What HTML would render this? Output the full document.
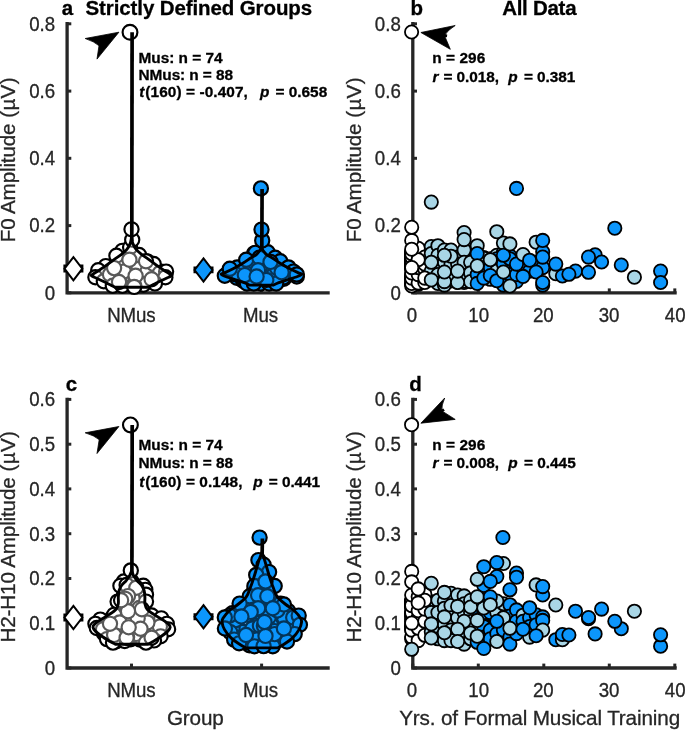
<!DOCTYPE html>
<html lang="en"><head><meta charset="utf-8"><title>Figure</title>
<style>
html,body{margin:0;padding:0;background:#fff}
body{width:685px;height:730px;overflow:hidden}
svg{display:block;filter:blur(0.4px)}
text{font-family:'Liberation Sans', sans-serif;fill:#262626;stroke:#262626;stroke-width:0.3px}
.ttl{font-weight:bold;fill:#000;stroke:#000}
.ann{font-weight:bold;fill:#000;stroke:#000}
.it{font-style:italic}
circle{stroke:#000;stroke-width:1.8px}
.W,.B{stroke-width:2.15px}
.w,.W{fill:#fff} .l{fill:#a9d6e6} .b,.B{fill:#0c96fc}
</style></head><body>
<svg width="685" height="730" viewBox="0 0 685 730">
<rect width="685" height="730" fill="#fff"/>
<text transform="translate(0 15.20) scale(1 1.02)" class="ttl" font-size="20.5"><tspan x="61.85">a </tspan><tspan x="85.54" letter-spacing="-0.098">Strictly Defined Groups</tspan></text>
<text transform="translate(0 15.20) scale(1 1.02)" class="ttl" font-size="20.5"><tspan x="410.39">b </tspan><tspan x="502.14" letter-spacing="-0.265">All Data</tspan></text>
<text transform="translate(0 390.70) scale(1 1.02)" class="ttl" font-size="20.5"><tspan x="65.86">c</tspan></text>
<text transform="translate(0 390.70) scale(1 1.02)" class="ttl" font-size="20.5"><tspan x="409.20">d</tspan></text>
<path d="M67.10 22.1 V292.8 H329.7" fill="none" stroke="#262626" stroke-width="3.3" stroke-linejoin="miter"/>
<line x1="67.10" y1="292.8" x2="71.30" y2="292.8" stroke="#262626" stroke-width="3.0"/>
<line x1="67.10" y1="225.6" x2="71.30" y2="225.6" stroke="#262626" stroke-width="3.0"/>
<line x1="67.10" y1="158.3" x2="71.30" y2="158.3" stroke="#262626" stroke-width="3.0"/>
<line x1="67.10" y1="91.1" x2="71.30" y2="91.1" stroke="#262626" stroke-width="3.0"/>
<line x1="67.10" y1="23.8" x2="71.30" y2="23.8" stroke="#262626" stroke-width="3.0"/>
<text transform="translate(44.73 299.60) scale(1 1.045)" class="tk" font-size="18.7">0</text>
<text transform="translate(29.13 232.35) scale(1 1.045)" class="tk" font-size="18.7">0.2</text>
<text transform="translate(29.13 165.10) scale(1 1.045)" class="tk" font-size="18.7">0.4</text>
<text transform="translate(29.13 97.85) scale(1 1.045)" class="tk" font-size="18.7">0.6</text>
<text transform="translate(29.13 30.60) scale(1 1.045)" class="tk" font-size="18.7">0.8</text>
<line x1="131.5" y1="292.8" x2="131.5" y2="288.4" stroke="#262626" stroke-width="3.0"/>
<line x1="261.6" y1="292.8" x2="261.6" y2="288.4" stroke="#262626" stroke-width="3.0"/>
<path d="M412.80 22.1 V292.8 H676.7" fill="none" stroke="#262626" stroke-width="3.3" stroke-linejoin="miter"/>
<line x1="412.80" y1="292.8" x2="417.00" y2="292.8" stroke="#262626" stroke-width="3.0"/>
<line x1="412.80" y1="225.6" x2="417.00" y2="225.6" stroke="#262626" stroke-width="3.0"/>
<line x1="412.80" y1="158.3" x2="417.00" y2="158.3" stroke="#262626" stroke-width="3.0"/>
<line x1="412.80" y1="91.1" x2="417.00" y2="91.1" stroke="#262626" stroke-width="3.0"/>
<line x1="412.80" y1="23.8" x2="417.00" y2="23.8" stroke="#262626" stroke-width="3.0"/>
<text transform="translate(390.43 299.60) scale(1 1.045)" class="tk" font-size="18.7">0</text>
<text transform="translate(374.83 232.35) scale(1 1.045)" class="tk" font-size="18.7">0.2</text>
<text transform="translate(374.83 165.10) scale(1 1.045)" class="tk" font-size="18.7">0.4</text>
<text transform="translate(374.83 97.85) scale(1 1.045)" class="tk" font-size="18.7">0.6</text>
<text transform="translate(374.83 30.60) scale(1 1.045)" class="tk" font-size="18.7">0.8</text>
<line x1="412.8" y1="292.8" x2="412.8" y2="288.4" stroke="#262626" stroke-width="3.0"/>
<line x1="478.3" y1="292.8" x2="478.3" y2="288.4" stroke="#262626" stroke-width="3.0"/>
<line x1="543.8" y1="292.8" x2="543.8" y2="288.4" stroke="#262626" stroke-width="3.0"/>
<line x1="609.3" y1="292.8" x2="609.3" y2="288.4" stroke="#262626" stroke-width="3.0"/>
<line x1="674.8" y1="292.8" x2="674.8" y2="288.4" stroke="#262626" stroke-width="3.0"/>
<path d="M67.10 397.7 V668.0 H329.7" fill="none" stroke="#262626" stroke-width="3.3" stroke-linejoin="miter"/>
<line x1="67.10" y1="668.0" x2="71.30" y2="668.0" stroke="#262626" stroke-width="3.0"/>
<line x1="67.10" y1="623.2" x2="71.30" y2="623.2" stroke="#262626" stroke-width="3.0"/>
<line x1="67.10" y1="578.5" x2="71.30" y2="578.5" stroke="#262626" stroke-width="3.0"/>
<line x1="67.10" y1="533.7" x2="71.30" y2="533.7" stroke="#262626" stroke-width="3.0"/>
<line x1="67.10" y1="488.9" x2="71.30" y2="488.9" stroke="#262626" stroke-width="3.0"/>
<line x1="67.10" y1="444.2" x2="71.30" y2="444.2" stroke="#262626" stroke-width="3.0"/>
<line x1="67.10" y1="399.4" x2="71.30" y2="399.4" stroke="#262626" stroke-width="3.0"/>
<text transform="translate(44.73 674.80) scale(1 1.045)" class="tk" font-size="18.7">0</text>
<text transform="translate(29.13 630.03) scale(1 1.045)" class="tk" font-size="18.7">0.1</text>
<text transform="translate(29.13 585.27) scale(1 1.045)" class="tk" font-size="18.7">0.2</text>
<text transform="translate(29.13 540.50) scale(1 1.045)" class="tk" font-size="18.7">0.3</text>
<text transform="translate(29.13 495.73) scale(1 1.045)" class="tk" font-size="18.7">0.4</text>
<text transform="translate(29.13 450.97) scale(1 1.045)" class="tk" font-size="18.7">0.5</text>
<text transform="translate(29.13 406.20) scale(1 1.045)" class="tk" font-size="18.7">0.6</text>
<line x1="131.5" y1="668.0" x2="131.5" y2="663.6" stroke="#262626" stroke-width="3.0"/>
<line x1="261.6" y1="668.0" x2="261.6" y2="663.6" stroke="#262626" stroke-width="3.0"/>
<path d="M412.80 397.7 V668.0 H676.7" fill="none" stroke="#262626" stroke-width="3.3" stroke-linejoin="miter"/>
<line x1="412.80" y1="668.0" x2="417.00" y2="668.0" stroke="#262626" stroke-width="3.0"/>
<line x1="412.80" y1="623.2" x2="417.00" y2="623.2" stroke="#262626" stroke-width="3.0"/>
<line x1="412.80" y1="578.5" x2="417.00" y2="578.5" stroke="#262626" stroke-width="3.0"/>
<line x1="412.80" y1="533.7" x2="417.00" y2="533.7" stroke="#262626" stroke-width="3.0"/>
<line x1="412.80" y1="488.9" x2="417.00" y2="488.9" stroke="#262626" stroke-width="3.0"/>
<line x1="412.80" y1="444.2" x2="417.00" y2="444.2" stroke="#262626" stroke-width="3.0"/>
<line x1="412.80" y1="399.4" x2="417.00" y2="399.4" stroke="#262626" stroke-width="3.0"/>
<text transform="translate(390.43 674.80) scale(1 1.045)" class="tk" font-size="18.7">0</text>
<text transform="translate(374.83 630.03) scale(1 1.045)" class="tk" font-size="18.7">0.1</text>
<text transform="translate(374.83 585.27) scale(1 1.045)" class="tk" font-size="18.7">0.2</text>
<text transform="translate(374.83 540.50) scale(1 1.045)" class="tk" font-size="18.7">0.3</text>
<text transform="translate(374.83 495.73) scale(1 1.045)" class="tk" font-size="18.7">0.4</text>
<text transform="translate(374.83 450.97) scale(1 1.045)" class="tk" font-size="18.7">0.5</text>
<text transform="translate(374.83 406.20) scale(1 1.045)" class="tk" font-size="18.7">0.6</text>
<line x1="412.8" y1="668.0" x2="412.8" y2="663.6" stroke="#262626" stroke-width="3.0"/>
<line x1="478.3" y1="668.0" x2="478.3" y2="663.6" stroke="#262626" stroke-width="3.0"/>
<line x1="543.8" y1="668.0" x2="543.8" y2="663.6" stroke="#262626" stroke-width="3.0"/>
<line x1="609.3" y1="668.0" x2="609.3" y2="663.6" stroke="#262626" stroke-width="3.0"/>
<line x1="674.8" y1="668.0" x2="674.8" y2="663.6" stroke="#262626" stroke-width="3.0"/>
<text transform="translate(0 321.80) scale(1 1.045)" class="tk" font-size="18.7"><tspan x="107.15" letter-spacing="-0.152">NMus</tspan></text>
<text transform="translate(0 321.80) scale(1 1.045)" class="tk" font-size="18.7"><tspan x="242.95" letter-spacing="-0.096">Mus</tspan></text>
<text transform="translate(0 321.80) scale(1 1.045)" class="tk" font-size="18.7"><tspan x="406.81">0</tspan></text>
<text transform="translate(0 321.80) scale(1 1.045)" class="tk" font-size="18.7"><tspan x="468.30">10</tspan></text>
<text transform="translate(0 321.80) scale(1 1.045)" class="tk" font-size="18.7"><tspan x="532.98">20</tspan></text>
<text transform="translate(0 321.80) scale(1 1.045)" class="tk" font-size="18.7"><tspan x="598.67">30</tspan></text>
<text transform="translate(0 321.80) scale(1 1.045)" class="tk" font-size="18.7"><tspan x="664.86">40</tspan></text>
<text transform="translate(0 697.20) scale(1 1.045)" class="tk" font-size="18.7"><tspan x="107.15" letter-spacing="-0.152">NMus</tspan></text>
<text transform="translate(0 697.20) scale(1 1.045)" class="tk" font-size="18.7"><tspan x="242.95" letter-spacing="-0.096">Mus</tspan></text>
<text transform="translate(0 697.20) scale(1 1.045)" class="tk" font-size="18.7"><tspan x="406.81">0</tspan></text>
<text transform="translate(0 697.20) scale(1 1.045)" class="tk" font-size="18.7"><tspan x="468.30">10</tspan></text>
<text transform="translate(0 697.20) scale(1 1.045)" class="tk" font-size="18.7"><tspan x="532.98">20</tspan></text>
<text transform="translate(0 697.20) scale(1 1.045)" class="tk" font-size="18.7"><tspan x="598.67">30</tspan></text>
<text transform="translate(0 697.20) scale(1 1.045)" class="tk" font-size="18.7"><tspan x="664.86">40</tspan></text>
<text transform="translate(15.40 0) rotate(-90)" class="lab" font-size="20.7"><tspan x="-242.21" letter-spacing="-0.182">F0 Amplitude </tspan><tspan x="-117.69" letter-spacing="0.250">(µV)</tspan></text>
<text transform="translate(15.40 0) rotate(-90)" class="lab" font-size="20.7"><tspan x="-642.51" letter-spacing="-0.173">H2-H10 Amplitude </tspan><tspan x="-471.39" letter-spacing="0.250">(µV)</tspan></text>
<text transform="translate(360.80 0) rotate(-90)" class="lab" font-size="20.7"><tspan x="-242.21" letter-spacing="-0.182">F0 Amplitude </tspan><tspan x="-117.69" letter-spacing="0.250">(µV)</tspan></text>
<text transform="translate(360.80 0) rotate(-90)" class="lab" font-size="20.7"><tspan x="-642.51" letter-spacing="-0.173">H2-H10 Amplitude </tspan><tspan x="-471.39" letter-spacing="0.250">(µV)</tspan></text>
<text transform="translate(0 724.90)" class="lab" font-size="20.7"><tspan x="166.91" letter-spacing="-0.146">Group</tspan></text>
<text transform="translate(0 724.90)" class="lab" font-size="20.7"><tspan x="399.13" letter-spacing="-0.136">Yrs. of Formal Musical Training</tspan></text>
<circle class="W" cx="131.9" cy="281.6" r="7.1"/>
<circle class="W" cx="132.1" cy="267.3" r="7.1"/>
<circle class="W" cx="136.0" cy="255.2" r="7.1"/>
<circle class="W" cx="161.2" cy="271.8" r="7.1"/>
<circle class="W" cx="106.5" cy="268.5" r="7.1"/>
<circle class="W" cx="118.9" cy="264.8" r="7.1"/>
<circle class="W" cx="131.2" cy="252.6" r="7.1"/>
<circle class="W" cx="147.8" cy="261.7" r="7.1"/>
<circle class="W" cx="114.3" cy="272.4" r="7.1"/>
<circle class="W" cx="134.9" cy="254.6" r="7.1"/>
<circle class="W" cx="113.7" cy="278.3" r="7.1"/>
<circle class="W" cx="155.7" cy="281.0" r="7.1"/>
<circle class="W" cx="134.8" cy="259.2" r="7.1"/>
<circle class="W" cx="101.8" cy="275.4" r="7.1"/>
<circle class="W" cx="113.8" cy="274.5" r="7.1"/>
<circle class="W" cx="135.7" cy="276.2" r="7.1"/>
<circle class="W" cx="138.8" cy="261.3" r="7.1"/>
<circle class="W" cx="127.1" cy="269.7" r="7.1"/>
<circle class="W" cx="107.5" cy="278.6" r="7.1"/>
<circle class="W" cx="122.7" cy="284.3" r="7.1"/>
<circle class="W" cx="117.0" cy="275.1" r="7.1"/>
<circle class="W" cx="136.3" cy="267.1" r="7.1"/>
<circle class="W" cx="134.6" cy="283.1" r="7.1"/>
<circle class="W" cx="111.4" cy="279.1" r="7.1"/>
<circle class="W" cx="127.2" cy="279.8" r="7.1"/>
<circle class="W" cx="139.9" cy="283.2" r="7.1"/>
<circle class="W" cx="115.5" cy="267.6" r="7.1"/>
<circle class="W" cx="113.8" cy="272.9" r="7.1"/>
<circle class="W" cx="152.9" cy="268.4" r="7.1"/>
<circle class="W" cx="130.4" cy="251.0" r="7.1"/>
<circle class="W" cx="121.4" cy="261.2" r="7.1"/>
<circle class="W" cx="109.5" cy="271.7" r="7.1"/>
<circle class="W" cx="137.1" cy="283.2" r="7.1"/>
<circle class="W" cx="140.7" cy="281.2" r="7.1"/>
<circle class="W" cx="138.8" cy="279.0" r="7.1"/>
<circle class="W" cx="138.6" cy="268.2" r="7.1"/>
<circle class="W" cx="147.1" cy="273.2" r="7.1"/>
<circle class="W" cx="147.5" cy="267.0" r="7.1"/>
<circle class="W" cx="138.5" cy="274.2" r="7.1"/>
<circle class="W" cx="138.5" cy="262.7" r="7.1"/>
<circle class="W" cx="107.8" cy="281.4" r="7.1"/>
<circle class="W" cx="136.1" cy="279.7" r="7.1"/>
<circle class="W" cx="131.4" cy="255.8" r="7.1"/>
<circle class="W" cx="122.4" cy="261.5" r="7.1"/>
<circle class="W" cx="144.0" cy="263.3" r="7.1"/>
<circle class="W" cx="115.4" cy="284.0" r="7.1"/>
<circle class="W" cx="143.4" cy="279.4" r="7.1"/>
<circle class="W" cx="144.9" cy="266.5" r="7.1"/>
<circle class="W" cx="142.2" cy="261.6" r="7.1"/>
<circle class="W" cx="138.4" cy="269.0" r="7.1"/>
<circle class="W" cx="122.4" cy="250.8" r="7.1"/>
<circle class="W" cx="139.1" cy="255.0" r="7.1"/>
<circle class="W" cx="130.1" cy="247.3" r="7.1"/>
<circle class="W" cx="116.4" cy="255.7" r="7.1"/>
<circle class="W" cx="105.8" cy="266.1" r="7.1"/>
<circle class="W" cx="98.2" cy="270.2" r="7.1"/>
<circle class="W" cx="95.4" cy="277.2" r="7.1"/>
<circle class="W" cx="103.8" cy="281.3" r="7.1"/>
<circle class="W" cx="110.0" cy="274.4" r="7.1"/>
<circle class="W" cx="123.8" cy="271.6" r="7.1"/>
<circle class="W" cx="147.4" cy="271.6" r="7.1"/>
<circle class="W" cx="153.7" cy="264.0" r="7.1"/>
<circle class="W" cx="159.9" cy="273.0" r="7.1"/>
<circle class="W" cx="166.1" cy="271.6" r="7.1"/>
<circle class="W" cx="165.4" cy="277.2" r="7.1"/>
<circle class="W" cx="154.9" cy="283.4" r="7.1"/>
<circle class="W" cx="143.3" cy="284.8" r="7.1"/>
<circle class="W" cx="112.8" cy="285.7" r="7.1"/>
<circle class="W" cx="122.4" cy="285.7" r="7.1"/>
<circle class="W" cx="134.2" cy="285.7" r="7.1"/>
<circle class="W" cx="119.0" cy="282.0" r="7.1"/>
<circle class="W" cx="151.6" cy="279.2" r="7.1"/>
<circle class="W" cx="114.1" cy="268.1" r="7.1"/>
<circle class="W" cx="146.0" cy="261.2" r="7.1"/>
<circle class="W" cx="135.6" cy="275.8" r="7.1"/>
<circle class="W" cx="129.4" cy="259.8" r="7.1"/>
<circle class="W" cx="132.2" cy="239.7" r="7.1"/>
<circle class="W" cx="131.5" cy="229.3" r="7.1"/>
<circle class="W" cx="134.2" cy="286.9" r="7.1"/>
<circle class="W" cx="130.0" cy="32.2" r="7.4"/>
<path d="M131.5 238.3 C131.2 239.2 130.8 242.1 130.0 243.9 C129.2 245.8 128.3 247.7 126.9 249.4 C125.5 251.1 123.5 252.7 121.5 254.3 C119.5 255.9 117.1 257.4 114.7 259.1 C112.3 260.8 109.8 262.9 107.2 264.7 C104.6 266.5 101.6 268.6 99.2 270.2 C96.8 271.8 94.2 273.3 92.9 274.2 C91.6 275.1 91.0 275.1 91.3 275.6 C91.6 276.1 92.5 276.2 94.5 277.2 C96.5 278.1 100.4 280.0 103.0 281.3 C105.6 282.6 108.2 283.8 110.2 284.8 C112.2 285.8 114.4 286.9 115.2 287.3 L147.8 287.3 C148.6 286.9 150.8 285.8 152.8 284.8 C154.8 283.8 157.4 282.6 160.0 281.3 C162.6 280.0 166.6 278.1 168.5 277.2 C170.4 276.2 171.4 276.1 171.7 275.6 C172.0 275.1 171.4 275.1 170.1 274.2 C168.8 273.3 166.2 271.8 163.8 270.2 C161.4 268.6 158.4 266.5 155.8 264.7 C153.2 262.9 150.7 260.8 148.3 259.1 C145.9 257.4 143.5 255.9 141.5 254.3 C139.5 252.7 137.5 251.1 136.1 249.4 C134.7 247.7 133.8 245.8 133.0 243.9 C132.2 242.1 131.8 239.2 131.5 238.3 Z" fill="#fff" fill-opacity="0.35" stroke="#000" stroke-width="2.9" stroke-linejoin="round"/>
<line x1="132.1" y1="32.2" x2="131.8" y2="241.3" stroke="#000" stroke-width="3.7"/>
<circle class="B" cx="230.0" cy="272.4" r="7.1"/>
<circle class="B" cx="270.8" cy="263.5" r="7.1"/>
<circle class="B" cx="265.4" cy="273.1" r="7.1"/>
<circle class="B" cx="257.7" cy="272.2" r="7.1"/>
<circle class="B" cx="236.8" cy="277.8" r="7.1"/>
<circle class="B" cx="244.0" cy="280.0" r="7.1"/>
<circle class="B" cx="273.0" cy="271.0" r="7.1"/>
<circle class="B" cx="256.5" cy="277.0" r="7.1"/>
<circle class="B" cx="255.1" cy="270.2" r="7.1"/>
<circle class="B" cx="235.5" cy="273.1" r="7.1"/>
<circle class="B" cx="275.5" cy="267.3" r="7.1"/>
<circle class="B" cx="259.0" cy="271.5" r="7.1"/>
<circle class="B" cx="268.7" cy="263.1" r="7.1"/>
<circle class="B" cx="251.5" cy="279.9" r="7.1"/>
<circle class="B" cx="244.0" cy="275.6" r="7.1"/>
<circle class="B" cx="245.8" cy="277.5" r="7.1"/>
<circle class="B" cx="267.4" cy="268.1" r="7.1"/>
<circle class="B" cx="251.8" cy="279.4" r="7.1"/>
<circle class="B" cx="283.9" cy="278.7" r="7.1"/>
<circle class="B" cx="246.6" cy="273.6" r="7.1"/>
<circle class="B" cx="287.7" cy="273.2" r="7.1"/>
<circle class="B" cx="259.2" cy="264.9" r="7.1"/>
<circle class="B" cx="254.5" cy="269.8" r="7.1"/>
<circle class="B" cx="226.8" cy="274.5" r="7.1"/>
<circle class="B" cx="274.1" cy="279.9" r="7.1"/>
<circle class="B" cx="257.0" cy="263.6" r="7.1"/>
<circle class="B" cx="269.7" cy="273.1" r="7.1"/>
<circle class="B" cx="244.0" cy="273.4" r="7.1"/>
<circle class="B" cx="267.7" cy="264.5" r="7.1"/>
<circle class="B" cx="259.9" cy="256.3" r="7.1"/>
<circle class="B" cx="272.4" cy="273.3" r="7.1"/>
<circle class="B" cx="243.1" cy="280.6" r="7.1"/>
<circle class="B" cx="248.0" cy="266.9" r="7.1"/>
<circle class="B" cx="244.6" cy="272.4" r="7.1"/>
<circle class="B" cx="253.0" cy="263.0" r="7.1"/>
<circle class="B" cx="276.7" cy="265.2" r="7.1"/>
<circle class="B" cx="273.4" cy="275.3" r="7.1"/>
<circle class="B" cx="251.1" cy="263.0" r="7.1"/>
<circle class="B" cx="267.2" cy="259.7" r="7.1"/>
<circle class="B" cx="282.2" cy="270.3" r="7.1"/>
<circle class="B" cx="244.3" cy="279.5" r="7.1"/>
<circle class="B" cx="276.9" cy="268.0" r="7.1"/>
<circle class="B" cx="270.1" cy="261.3" r="7.1"/>
<circle class="B" cx="283.5" cy="277.5" r="7.1"/>
<circle class="B" cx="253.6" cy="261.4" r="7.1"/>
<circle class="B" cx="254.0" cy="253.6" r="7.1"/>
<circle class="B" cx="255.2" cy="252.9" r="7.1"/>
<circle class="B" cx="267.7" cy="252.2" r="7.1"/>
<circle class="B" cx="275.2" cy="257.7" r="7.1"/>
<circle class="B" cx="280.3" cy="261.2" r="7.1"/>
<circle class="B" cx="237.2" cy="267.4" r="7.1"/>
<circle class="B" cx="235.8" cy="274.4" r="7.1"/>
<circle class="B" cx="224.8" cy="275.8" r="7.1"/>
<circle class="B" cx="229.8" cy="268.8" r="7.1"/>
<circle class="B" cx="288.5" cy="267.4" r="7.1"/>
<circle class="B" cx="293.4" cy="271.6" r="7.1"/>
<circle class="B" cx="296.8" cy="276.5" r="7.1"/>
<circle class="B" cx="296.8" cy="274.4" r="7.1"/>
<circle class="B" cx="246.9" cy="283.5" r="7.1"/>
<circle class="B" cx="260.8" cy="283.5" r="7.1"/>
<circle class="B" cx="253.8" cy="283.5" r="7.1"/>
<circle class="B" cx="269.1" cy="283.5" r="7.1"/>
<circle class="B" cx="276.2" cy="283.5" r="7.1"/>
<circle class="B" cx="246.2" cy="259.8" r="7.1"/>
<circle class="B" cx="259.4" cy="257.7" r="7.1"/>
<circle class="B" cx="270.5" cy="261.9" r="7.1"/>
<circle class="B" cx="258.0" cy="270.2" r="7.1"/>
<circle class="B" cx="244.8" cy="275.1" r="7.1"/>
<circle class="B" cx="281.6" cy="272.3" r="7.1"/>
<circle class="B" cx="266.3" cy="279.9" r="7.1"/>
<circle class="B" cx="256.6" cy="276.5" r="7.1"/>
<circle class="B" cx="262.2" cy="240.4" r="7.1"/>
<circle class="B" cx="261.5" cy="229.6" r="7.1"/>
<circle class="B" cx="260.9" cy="188.4" r="7.1"/>
<path d="M261.5 248.0 C261.2 248.5 260.5 249.8 259.7 250.8 C258.9 251.9 258.0 253.2 256.6 254.3 C255.2 255.5 253.4 256.2 251.1 257.7 C248.8 259.2 245.8 261.4 242.8 263.3 C239.8 265.2 236.2 267.2 233.1 268.8 C230.0 270.4 226.0 272.1 224.0 273.0 C222.0 273.9 221.1 273.8 221.3 274.4 C221.6 275.0 223.1 275.6 225.5 276.5 C227.9 277.4 232.7 278.9 235.8 279.9 C238.9 280.9 241.9 281.8 244.2 282.7 C246.5 283.6 248.8 284.7 249.7 285.1 L273.3 285.1 C274.2 284.7 276.5 283.6 278.8 282.7 C281.1 281.8 284.1 280.9 287.2 279.9 C290.3 278.9 295.1 277.4 297.5 276.5 C299.9 275.6 301.4 275.0 301.7 274.4 C301.9 273.8 301.0 273.9 299.0 273.0 C297.0 272.1 293.0 270.4 289.9 268.8 C286.8 267.2 283.2 265.2 280.2 263.3 C277.2 261.4 274.2 259.2 271.9 257.7 C269.6 256.2 267.8 255.5 266.4 254.3 C265.0 253.2 264.1 251.9 263.3 250.8 C262.5 249.8 261.8 248.5 261.5 248.0 Z" fill="#0c96fc" fill-opacity="0.35" stroke="#000" stroke-width="2.9" stroke-linejoin="round"/>
<line x1="262.1" y1="189.0" x2="261.8" y2="251.0" stroke="#000" stroke-width="3.7"/>
<path d="M63.4 264.6h3.4v8.0h-3.4zM80.0 264.6h3.4v8.0h-3.4z" fill="#000"/>
<path d="M73.4 257.1L82.3 268.7L73.4 280.3L64.5 268.7Z" fill="#fff" stroke="#000" stroke-width="2.0" stroke-linejoin="miter"/>
<path d="M193.5 266.6h3.4v6.6h-3.4zM210.1 266.6h3.4v6.6h-3.4z" fill="#000"/>
<path d="M203.5 258.4L212.4 270.0L203.5 281.6L194.6 270.0Z" fill="#0c96fc" stroke="#000" stroke-width="2.0" stroke-linejoin="miter"/>
<path d="M118.9 32.2L85.2 38.5Q94.4 41.6 99.0 45.7L97.0 59.1Z" fill="#000" stroke="#000" stroke-width="0.8" stroke-linejoin="round"/>
<circle class="W" cx="118.4" cy="617.4" r="7.1"/>
<circle class="W" cx="132.5" cy="627.9" r="7.1"/>
<circle class="W" cx="120.3" cy="608.7" r="7.1"/>
<circle class="W" cx="104.1" cy="633.4" r="7.1"/>
<circle class="W" cx="137.5" cy="599.6" r="7.1"/>
<circle class="W" cx="136.7" cy="587.5" r="7.1"/>
<circle class="W" cx="147.2" cy="625.9" r="7.1"/>
<circle class="W" cx="159.3" cy="630.2" r="7.1"/>
<circle class="W" cx="123.9" cy="634.2" r="7.1"/>
<circle class="W" cx="114.8" cy="641.3" r="7.1"/>
<circle class="W" cx="138.9" cy="624.9" r="7.1"/>
<circle class="W" cx="123.7" cy="595.5" r="7.1"/>
<circle class="W" cx="123.3" cy="629.3" r="7.1"/>
<circle class="W" cx="154.1" cy="620.6" r="7.1"/>
<circle class="W" cx="152.7" cy="638.9" r="7.1"/>
<circle class="W" cx="124.4" cy="633.9" r="7.1"/>
<circle class="W" cx="135.4" cy="585.9" r="7.1"/>
<circle class="W" cx="154.7" cy="626.6" r="7.1"/>
<circle class="W" cx="129.5" cy="586.5" r="7.1"/>
<circle class="W" cx="115.1" cy="624.8" r="7.1"/>
<circle class="W" cx="141.5" cy="639.0" r="7.1"/>
<circle class="W" cx="134.8" cy="615.1" r="7.1"/>
<circle class="W" cx="133.8" cy="631.7" r="7.1"/>
<circle class="W" cx="116.3" cy="631.8" r="7.1"/>
<circle class="W" cx="109.8" cy="635.4" r="7.1"/>
<circle class="W" cx="131.4" cy="581.4" r="7.1"/>
<circle class="W" cx="133.6" cy="618.7" r="7.1"/>
<circle class="W" cx="126.5" cy="589.7" r="7.1"/>
<circle class="W" cx="137.8" cy="611.7" r="7.1"/>
<circle class="W" cx="129.1" cy="627.8" r="7.1"/>
<circle class="W" cx="129.6" cy="596.0" r="7.1"/>
<circle class="W" cx="139.8" cy="639.5" r="7.1"/>
<circle class="W" cx="124.5" cy="640.1" r="7.1"/>
<circle class="W" cx="116.4" cy="641.2" r="7.1"/>
<circle class="W" cx="139.8" cy="625.7" r="7.1"/>
<circle class="W" cx="132.4" cy="618.0" r="7.1"/>
<circle class="W" cx="130.5" cy="590.1" r="7.1"/>
<circle class="W" cx="128.7" cy="629.5" r="7.1"/>
<circle class="W" cx="130.7" cy="639.2" r="7.1"/>
<circle class="W" cx="116.5" cy="621.6" r="7.1"/>
<circle class="W" cx="137.6" cy="636.1" r="7.1"/>
<circle class="W" cx="124.7" cy="641.0" r="7.1"/>
<circle class="W" cx="140.9" cy="605.9" r="7.1"/>
<circle class="W" cx="121.7" cy="622.0" r="7.1"/>
<circle class="W" cx="143.2" cy="631.4" r="7.1"/>
<circle class="W" cx="128.6" cy="637.7" r="7.1"/>
<circle class="W" cx="117.8" cy="616.2" r="7.1"/>
<circle class="W" cx="131.7" cy="622.0" r="7.1"/>
<circle class="W" cx="132.4" cy="591.1" r="7.1"/>
<circle class="W" cx="137.0" cy="599.7" r="7.1"/>
<circle class="W" cx="101.9" cy="629.9" r="7.1"/>
<circle class="W" cx="140.6" cy="611.8" r="7.1"/>
<circle class="W" cx="136.3" cy="633.9" r="7.1"/>
<circle class="W" cx="110.8" cy="624.8" r="7.1"/>
<circle class="W" cx="111.6" cy="618.6" r="7.1"/>
<circle class="W" cx="127.1" cy="637.1" r="7.1"/>
<circle class="W" cx="139.9" cy="610.0" r="7.1"/>
<circle class="W" cx="129.3" cy="589.3" r="7.1"/>
<circle class="W" cx="139.4" cy="608.0" r="7.1"/>
<circle class="W" cx="147.1" cy="620.3" r="7.1"/>
<circle class="W" cx="123.8" cy="581.5" r="7.1"/>
<circle class="W" cx="120.4" cy="585.7" r="7.1"/>
<circle class="W" cx="143.3" cy="585.7" r="7.1"/>
<circle class="W" cx="145.3" cy="589.8" r="7.1"/>
<circle class="W" cx="146.0" cy="594.7" r="7.1"/>
<circle class="W" cx="117.6" cy="601.6" r="7.1"/>
<circle class="W" cx="146.0" cy="601.6" r="7.1"/>
<circle class="W" cx="126.6" cy="585.0" r="7.1"/>
<circle class="W" cx="136.3" cy="587.7" r="7.1"/>
<circle class="W" cx="128.0" cy="596.1" r="7.1"/>
<circle class="W" cx="125.2" cy="598.8" r="7.1"/>
<circle class="W" cx="114.1" cy="614.8" r="7.1"/>
<circle class="W" cx="100.3" cy="619.6" r="7.1"/>
<circle class="W" cx="95.4" cy="623.8" r="7.1"/>
<circle class="W" cx="96.8" cy="628.0" r="7.1"/>
<circle class="W" cx="103.0" cy="629.3" r="7.1"/>
<circle class="W" cx="151.6" cy="615.5" r="7.1"/>
<circle class="W" cx="161.3" cy="618.3" r="7.1"/>
<circle class="W" cx="166.8" cy="623.8" r="7.1"/>
<circle class="W" cx="168.1" cy="629.3" r="7.1"/>
<circle class="W" cx="159.9" cy="626.6" r="7.1"/>
<circle class="W" cx="160.6" cy="636.3" r="7.1"/>
<circle class="W" cx="154.0" cy="640.4" r="7.1"/>
<circle class="W" cx="107.0" cy="639.1" r="7.1"/>
<circle class="W" cx="113.0" cy="642.6" r="7.1"/>
<circle class="W" cx="146.0" cy="642.6" r="7.1"/>
<circle class="W" cx="119.7" cy="622.4" r="7.1"/>
<circle class="W" cx="147.4" cy="622.4" r="7.1"/>
<circle class="W" cx="137.7" cy="618.3" r="7.1"/>
<circle class="W" cx="114.1" cy="634.9" r="7.1"/>
<circle class="W" cx="126.6" cy="637.7" r="7.1"/>
<circle class="W" cx="151.6" cy="637.7" r="7.1"/>
<circle class="W" cx="140.5" cy="628.7" r="7.1"/>
<circle class="W" cx="141.9" cy="609.2" r="7.1"/>
<circle class="W" cx="128.0" cy="611.3" r="7.1"/>
<circle class="W" cx="121.1" cy="600.2" r="7.1"/>
<circle class="W" cx="110.0" cy="623.8" r="7.1"/>
<circle class="W" cx="128.7" cy="627.3" r="7.1"/>
<circle class="W" cx="130.8" cy="570.4" r="7.1"/>
<circle class="W" cx="130.4" cy="424.9" r="7.4"/>
<path d="M131.6 571.1 C131.3 571.8 130.7 573.6 129.8 575.3 C128.9 576.9 127.3 579.2 126.0 580.8 C124.7 582.4 123.0 583.3 121.9 585.0 C120.7 586.6 119.7 588.4 119.1 590.5 C118.5 592.6 118.4 595.3 118.3 597.4 C118.2 599.6 118.7 601.7 118.3 603.7 C117.9 605.7 117.5 607.5 116.0 609.2 C114.5 611.0 111.9 612.7 109.4 614.4 C106.9 616.1 103.6 617.7 101.1 619.4 C98.6 621.0 95.9 622.8 94.6 624.1 C93.2 625.4 92.8 626.0 93.0 627.3 C93.2 628.5 94.1 629.9 95.6 631.4 C97.1 632.9 99.4 634.6 101.8 636.3 C104.2 638.0 107.9 640.2 110.2 641.6 C112.4 642.9 114.4 643.7 115.3 644.2 L147.9 644.2 C148.8 643.7 150.8 642.9 153.0 641.6 C155.2 640.2 159.0 638.0 161.4 636.3 C163.8 634.6 166.1 632.9 167.6 631.4 C169.1 629.9 170.0 628.5 170.2 627.3 C170.4 626.0 169.9 625.4 168.6 624.1 C167.2 622.8 164.6 621.0 162.1 619.4 C159.6 617.7 156.3 616.1 153.8 614.4 C151.3 612.7 148.7 611.0 147.2 609.2 C145.7 607.5 145.3 605.7 144.9 603.7 C144.5 601.7 145.0 599.6 144.9 597.4 C144.8 595.3 144.7 592.6 144.1 590.5 C143.5 588.4 142.4 586.6 141.3 585.0 C140.1 583.3 138.5 582.4 137.2 580.8 C135.9 579.2 134.3 576.9 133.4 575.3 C132.5 573.6 131.9 571.8 131.6 571.1 Z" fill="#fff" fill-opacity="0.35" stroke="#000" stroke-width="2.9" stroke-linejoin="round"/>
<line x1="132.2" y1="424.9" x2="131.9" y2="574.1" stroke="#000" stroke-width="3.7"/>
<circle class="B" cx="241.2" cy="641.7" r="7.1"/>
<circle class="B" cx="249.4" cy="645.3" r="7.1"/>
<circle class="B" cx="286.5" cy="614.5" r="7.1"/>
<circle class="B" cx="250.8" cy="634.9" r="7.1"/>
<circle class="B" cx="288.2" cy="611.0" r="7.1"/>
<circle class="B" cx="232.2" cy="615.9" r="7.1"/>
<circle class="B" cx="278.2" cy="603.9" r="7.1"/>
<circle class="B" cx="255.1" cy="638.0" r="7.1"/>
<circle class="B" cx="266.6" cy="608.4" r="7.1"/>
<circle class="B" cx="268.9" cy="604.9" r="7.1"/>
<circle class="B" cx="280.7" cy="603.6" r="7.1"/>
<circle class="B" cx="257.4" cy="641.2" r="7.1"/>
<circle class="B" cx="254.6" cy="588.4" r="7.1"/>
<circle class="B" cx="273.9" cy="614.1" r="7.1"/>
<circle class="B" cx="279.9" cy="638.4" r="7.1"/>
<circle class="B" cx="278.0" cy="622.7" r="7.1"/>
<circle class="B" cx="279.5" cy="613.8" r="7.1"/>
<circle class="B" cx="291.4" cy="629.4" r="7.1"/>
<circle class="B" cx="264.6" cy="586.9" r="7.1"/>
<circle class="B" cx="251.8" cy="595.3" r="7.1"/>
<circle class="B" cx="246.1" cy="642.5" r="7.1"/>
<circle class="B" cx="248.3" cy="633.6" r="7.1"/>
<circle class="B" cx="253.9" cy="630.7" r="7.1"/>
<circle class="B" cx="243.2" cy="632.0" r="7.1"/>
<circle class="B" cx="259.3" cy="623.3" r="7.1"/>
<circle class="B" cx="263.4" cy="580.3" r="7.1"/>
<circle class="B" cx="261.7" cy="614.0" r="7.1"/>
<circle class="B" cx="261.1" cy="610.3" r="7.1"/>
<circle class="B" cx="271.0" cy="624.7" r="7.1"/>
<circle class="B" cx="254.0" cy="635.9" r="7.1"/>
<circle class="B" cx="242.2" cy="632.0" r="7.1"/>
<circle class="B" cx="274.4" cy="631.1" r="7.1"/>
<circle class="B" cx="263.4" cy="633.4" r="7.1"/>
<circle class="B" cx="293.1" cy="624.8" r="7.1"/>
<circle class="B" cx="284.0" cy="617.6" r="7.1"/>
<circle class="B" cx="295.4" cy="622.3" r="7.1"/>
<circle class="B" cx="247.9" cy="614.6" r="7.1"/>
<circle class="B" cx="265.3" cy="577.9" r="7.1"/>
<circle class="B" cx="259.6" cy="583.2" r="7.1"/>
<circle class="B" cx="269.4" cy="590.0" r="7.1"/>
<circle class="B" cx="248.7" cy="602.3" r="7.1"/>
<circle class="B" cx="232.6" cy="627.8" r="7.1"/>
<circle class="B" cx="259.6" cy="637.8" r="7.1"/>
<circle class="B" cx="273.0" cy="612.7" r="7.1"/>
<circle class="B" cx="252.4" cy="628.4" r="7.1"/>
<circle class="B" cx="257.2" cy="582.1" r="7.1"/>
<circle class="B" cx="259.9" cy="625.8" r="7.1"/>
<circle class="B" cx="232.5" cy="613.1" r="7.1"/>
<circle class="B" cx="251.5" cy="638.4" r="7.1"/>
<circle class="B" cx="256.8" cy="639.5" r="7.1"/>
<circle class="B" cx="257.6" cy="606.1" r="7.1"/>
<circle class="B" cx="278.9" cy="638.1" r="7.1"/>
<circle class="B" cx="263.9" cy="626.1" r="7.1"/>
<circle class="B" cx="268.7" cy="617.2" r="7.1"/>
<circle class="B" cx="257.6" cy="608.2" r="7.1"/>
<circle class="B" cx="277.3" cy="610.4" r="7.1"/>
<circle class="B" cx="235.8" cy="620.1" r="7.1"/>
<circle class="B" cx="261.2" cy="579.9" r="7.1"/>
<circle class="B" cx="291.5" cy="628.5" r="7.1"/>
<circle class="B" cx="248.2" cy="601.8" r="7.1"/>
<circle class="B" cx="258.4" cy="560.1" r="7.1"/>
<circle class="B" cx="263.6" cy="564.7" r="7.1"/>
<circle class="B" cx="269.1" cy="572.1" r="7.1"/>
<circle class="B" cx="256.2" cy="574.9" r="7.1"/>
<circle class="B" cx="274.7" cy="586.0" r="7.1"/>
<circle class="B" cx="254.4" cy="586.0" r="7.1"/>
<circle class="B" cx="249.7" cy="596.2" r="7.1"/>
<circle class="B" cx="258.1" cy="595.2" r="7.1"/>
<circle class="B" cx="239.6" cy="603.6" r="7.1"/>
<circle class="B" cx="283.9" cy="604.5" r="7.1"/>
<circle class="B" cx="258.1" cy="608.2" r="7.1"/>
<circle class="B" cx="250.7" cy="611.9" r="7.1"/>
<circle class="B" cx="229.4" cy="615.6" r="7.1"/>
<circle class="B" cx="224.8" cy="617.4" r="7.1"/>
<circle class="B" cx="293.2" cy="617.4" r="7.1"/>
<circle class="B" cx="298.7" cy="615.6" r="7.1"/>
<circle class="B" cx="299.9" cy="624.8" r="7.1"/>
<circle class="B" cx="294.7" cy="634.1" r="7.1"/>
<circle class="B" cx="230.3" cy="632.2" r="7.1"/>
<circle class="B" cx="224.9" cy="628.5" r="7.1"/>
<circle class="B" cx="234.1" cy="639.6" r="7.1"/>
<circle class="B" cx="239.1" cy="643.3" r="7.1"/>
<circle class="B" cx="287.0" cy="641.5" r="7.1"/>
<circle class="B" cx="254.4" cy="646.3" r="7.1"/>
<circle class="B" cx="272.8" cy="646.3" r="7.1"/>
<circle class="B" cx="263.6" cy="646.1" r="7.1"/>
<circle class="B" cx="274.7" cy="634.1" r="7.1"/>
<circle class="B" cx="265.5" cy="635.9" r="7.1"/>
<circle class="B" cx="246.0" cy="635.0" r="7.1"/>
<circle class="B" cx="283.9" cy="628.5" r="7.1"/>
<circle class="B" cx="241.4" cy="616.5" r="7.1"/>
<circle class="B" cx="267.3" cy="596.2" r="7.1"/>
<circle class="B" cx="265.5" cy="581.4" r="7.1"/>
<circle class="B" cx="272.8" cy="608.2" r="7.1"/>
<circle class="B" cx="264.5" cy="622.0" r="7.1"/>
<circle class="B" cx="259.6" cy="537.6" r="7.1"/>
<path d="M261.8 552.7 C261.3 554.0 259.9 557.3 259.0 560.1 C258.1 562.9 257.2 566.3 256.3 569.4 C255.4 572.4 254.5 575.5 253.5 578.6 C252.5 581.7 251.5 584.8 250.3 587.8 C249.1 590.9 248.2 594.3 246.1 597.1 C244.0 599.9 240.7 602.2 237.8 604.5 C235.0 606.8 231.5 608.6 229.0 611.0 C226.5 613.3 224.2 616.4 223.0 618.3 C221.8 620.3 221.9 620.6 222.1 622.4 C222.3 624.3 222.9 626.8 224.4 629.4 C225.9 632.1 228.8 635.7 231.3 638.1 C233.8 640.6 237.1 642.6 239.6 644.2 C242.1 645.9 245.0 647.3 246.1 647.9 L277.5 647.9 C278.6 647.3 281.5 645.9 284.0 644.2 C286.5 642.6 289.8 640.6 292.3 638.1 C294.8 635.7 297.7 632.1 299.2 629.4 C300.7 626.8 301.3 624.3 301.5 622.4 C301.7 620.6 301.8 620.3 300.6 618.3 C299.5 616.4 297.1 613.3 294.6 611.0 C292.1 608.6 288.7 606.8 285.8 604.5 C282.9 602.2 279.6 599.9 277.5 597.1 C275.4 594.3 274.5 590.9 273.3 587.8 C272.1 584.8 271.1 581.7 270.1 578.6 C269.1 575.5 268.2 572.4 267.3 569.4 C266.4 566.3 265.5 562.9 264.6 560.1 C263.7 557.3 262.3 554.0 261.8 552.7 Z" fill="#0c96fc" fill-opacity="0.35" stroke="#000" stroke-width="2.9" stroke-linejoin="round"/>
<line x1="262.4" y1="538.5" x2="262.1" y2="555.7" stroke="#000" stroke-width="3.7"/>
<path d="M63.4 613.4h3.4v8.0h-3.4zM80.0 613.4h3.4v8.0h-3.4z" fill="#000"/>
<path d="M73.4 605.9L82.3 617.5L73.4 629.1L64.5 617.5Z" fill="#fff" stroke="#000" stroke-width="2.0" stroke-linejoin="miter"/>
<path d="M193.5 613.2h3.4v7.0h-3.4zM210.1 613.2h3.4v7.0h-3.4z" fill="#000"/>
<path d="M203.5 605.2L212.4 616.8L203.5 628.4L194.6 616.8Z" fill="#0c96fc" stroke="#000" stroke-width="2.0" stroke-linejoin="miter"/>
<path d="M118.9 426.5L85.2 432.8Q94.6 435.6 99.2 439.7L97.0 453.5Z" fill="#000" stroke="#000" stroke-width="0.8" stroke-linejoin="round"/>
<circle class="w" cx="418.2" cy="277.4" r="6.65"/>
<circle class="w" cx="411.7" cy="283.4" r="6.65"/>
<circle class="l" cx="431.3" cy="273.2" r="6.65"/>
<circle class="w" cx="411.7" cy="259.5" r="6.65"/>
<circle class="w" cx="424.8" cy="277.5" r="6.65"/>
<circle class="w" cx="411.7" cy="252.7" r="6.65"/>
<circle class="l" cx="477.2" cy="271.7" r="6.65"/>
<circle class="l" cx="437.9" cy="282.6" r="6.65"/>
<circle class="l" cx="431.3" cy="251.8" r="6.65"/>
<circle class="l" cx="470.6" cy="252.6" r="6.65"/>
<circle class="l" cx="457.6" cy="282.0" r="6.65"/>
<circle class="w" cx="411.7" cy="268.6" r="6.65"/>
<circle class="l" cx="470.6" cy="276.4" r="6.65"/>
<circle class="l" cx="464.1" cy="264.2" r="6.65"/>
<circle class="b" cx="496.8" cy="277.9" r="6.65"/>
<circle class="w" cx="418.2" cy="255.1" r="6.65"/>
<circle class="w" cx="411.7" cy="266.1" r="6.65"/>
<circle class="l" cx="503.4" cy="281.5" r="6.65"/>
<circle class="l" cx="509.9" cy="271.8" r="6.65"/>
<circle class="w" cx="411.7" cy="252.7" r="6.65"/>
<circle class="w" cx="424.8" cy="252.1" r="6.65"/>
<circle class="w" cx="411.7" cy="265.1" r="6.65"/>
<circle class="w" cx="411.7" cy="263.4" r="6.65"/>
<circle class="l" cx="457.6" cy="258.8" r="6.65"/>
<circle class="l" cx="437.9" cy="273.1" r="6.65"/>
<circle class="w" cx="411.7" cy="258.6" r="6.65"/>
<circle class="w" cx="411.7" cy="254.1" r="6.65"/>
<circle class="l" cx="451.0" cy="260.2" r="6.65"/>
<circle class="w" cx="418.2" cy="277.1" r="6.65"/>
<circle class="w" cx="424.8" cy="261.2" r="6.65"/>
<circle class="l" cx="451.0" cy="272.6" r="6.65"/>
<circle class="l" cx="490.3" cy="279.3" r="6.65"/>
<circle class="l" cx="437.9" cy="280.6" r="6.65"/>
<circle class="b" cx="496.8" cy="274.2" r="6.65"/>
<circle class="l" cx="444.4" cy="271.9" r="6.65"/>
<circle class="l" cx="490.3" cy="258.8" r="6.65"/>
<circle class="w" cx="411.7" cy="257.7" r="6.65"/>
<circle class="l" cx="470.6" cy="252.2" r="6.65"/>
<circle class="w" cx="418.2" cy="257.6" r="6.65"/>
<circle class="l" cx="509.9" cy="279.8" r="6.65"/>
<circle class="w" cx="418.2" cy="279.7" r="6.65"/>
<circle class="l" cx="431.3" cy="277.4" r="6.65"/>
<circle class="w" cx="424.8" cy="261.6" r="6.65"/>
<circle class="b" cx="490.3" cy="274.3" r="6.65"/>
<circle class="l" cx="457.6" cy="255.7" r="6.65"/>
<circle class="l" cx="444.4" cy="261.1" r="6.65"/>
<circle class="w" cx="411.7" cy="253.4" r="6.65"/>
<circle class="b" cx="509.9" cy="255.9" r="6.65"/>
<circle class="l" cx="464.1" cy="282.4" r="6.65"/>
<circle class="w" cx="418.2" cy="255.1" r="6.65"/>
<circle class="b" cx="483.8" cy="257.9" r="6.65"/>
<circle class="w" cx="411.7" cy="280.6" r="6.65"/>
<circle class="w" cx="424.8" cy="266.3" r="6.65"/>
<circle class="l" cx="483.8" cy="257.9" r="6.65"/>
<circle class="w" cx="418.2" cy="263.6" r="6.65"/>
<circle class="l" cx="470.6" cy="258.6" r="6.65"/>
<circle class="w" cx="411.7" cy="262.6" r="6.65"/>
<circle class="l" cx="451.0" cy="280.9" r="6.65"/>
<circle class="w" cx="418.2" cy="280.1" r="6.65"/>
<circle class="l" cx="464.1" cy="271.0" r="6.65"/>
<circle class="b" cx="516.5" cy="278.4" r="6.65"/>
<circle class="w" cx="411.7" cy="277.1" r="6.65"/>
<circle class="b" cx="503.4" cy="278.7" r="6.65"/>
<circle class="l" cx="431.3" cy="254.2" r="6.65"/>
<circle class="l" cx="457.6" cy="282.1" r="6.65"/>
<circle class="l" cx="464.1" cy="281.2" r="6.65"/>
<circle class="l" cx="477.2" cy="271.4" r="6.65"/>
<circle class="b" cx="490.3" cy="268.0" r="6.65"/>
<circle class="b" cx="477.2" cy="258.0" r="6.65"/>
<circle class="w" cx="424.8" cy="252.8" r="6.65"/>
<circle class="b" cx="483.8" cy="273.6" r="6.65"/>
<circle class="b" cx="477.2" cy="266.3" r="6.65"/>
<circle class="w" cx="411.7" cy="253.6" r="6.65"/>
<circle class="l" cx="437.9" cy="263.4" r="6.65"/>
<circle class="l" cx="451.0" cy="267.3" r="6.65"/>
<circle class="w" cx="411.7" cy="279.0" r="6.65"/>
<circle class="w" cx="411.7" cy="276.1" r="6.65"/>
<circle class="l" cx="444.4" cy="256.6" r="6.65"/>
<circle class="l" cx="496.8" cy="257.2" r="6.65"/>
<circle class="l" cx="470.6" cy="253.0" r="6.65"/>
<circle class="w" cx="411.7" cy="284.0" r="6.65"/>
<circle class="w" cx="418.2" cy="284.3" r="6.65"/>
<circle class="l" cx="431.3" cy="271.2" r="6.65"/>
<circle class="l" cx="457.6" cy="257.5" r="6.65"/>
<circle class="b" cx="509.9" cy="264.2" r="6.65"/>
<circle class="l" cx="496.8" cy="255.3" r="6.65"/>
<circle class="w" cx="411.7" cy="268.7" r="6.65"/>
<circle class="w" cx="411.7" cy="275.0" r="6.65"/>
<circle class="l" cx="444.4" cy="267.4" r="6.65"/>
<circle class="l" cx="503.4" cy="252.5" r="6.65"/>
<circle class="l" cx="451.0" cy="251.6" r="6.65"/>
<circle class="w" cx="424.8" cy="274.7" r="6.65"/>
<circle class="l" cx="437.9" cy="278.1" r="6.65"/>
<circle class="b" cx="516.5" cy="281.4" r="6.65"/>
<circle class="b" cx="503.4" cy="280.6" r="6.65"/>
<circle class="w" cx="418.2" cy="251.4" r="6.65"/>
<circle class="w" cx="411.7" cy="259.5" r="6.65"/>
<circle class="l" cx="444.4" cy="272.8" r="6.65"/>
<circle class="l" cx="464.1" cy="276.9" r="6.65"/>
<circle class="l" cx="483.8" cy="266.0" r="6.65"/>
<circle class="l" cx="477.2" cy="257.9" r="6.65"/>
<circle class="l" cx="483.8" cy="258.3" r="6.65"/>
<circle class="l" cx="490.3" cy="266.4" r="6.65"/>
<circle class="l" cx="496.8" cy="266.2" r="6.65"/>
<circle class="l" cx="503.4" cy="272.9" r="6.65"/>
<circle class="w" cx="411.7" cy="286.0" r="6.65"/>
<circle class="w" cx="411.7" cy="283.4" r="6.65"/>
<circle class="w" cx="411.7" cy="278.1" r="6.65"/>
<circle class="w" cx="411.7" cy="272.9" r="6.65"/>
<circle class="w" cx="411.7" cy="262.3" r="6.65"/>
<circle class="w" cx="411.7" cy="257.1" r="6.65"/>
<circle class="w" cx="411.7" cy="253.6" r="6.65"/>
<circle class="w" cx="418.2" cy="283.0" r="6.65"/>
<circle class="w" cx="418.2" cy="274.6" r="6.65"/>
<circle class="w" cx="418.2" cy="267.6" r="6.65"/>
<circle class="w" cx="418.2" cy="253.6" r="6.65"/>
<circle class="w" cx="418.2" cy="248.3" r="6.65"/>
<circle class="w" cx="424.8" cy="282.5" r="6.65"/>
<circle class="w" cx="424.8" cy="269.3" r="6.65"/>
<circle class="w" cx="424.8" cy="264.1" r="6.65"/>
<circle class="w" cx="424.8" cy="257.1" r="6.65"/>
<circle class="l" cx="431.3" cy="246.6" r="6.65"/>
<circle class="l" cx="431.3" cy="253.6" r="6.65"/>
<circle class="l" cx="431.3" cy="271.1" r="6.65"/>
<circle class="l" cx="437.9" cy="245.7" r="6.65"/>
<circle class="l" cx="437.9" cy="255.3" r="6.65"/>
<circle class="l" cx="437.9" cy="264.1" r="6.65"/>
<circle class="l" cx="437.9" cy="274.6" r="6.65"/>
<circle class="l" cx="437.9" cy="283.4" r="6.65"/>
<circle class="l" cx="444.4" cy="250.1" r="6.65"/>
<circle class="l" cx="444.4" cy="262.3" r="6.65"/>
<circle class="l" cx="444.4" cy="285.1" r="6.65"/>
<circle class="l" cx="451.0" cy="250.1" r="6.65"/>
<circle class="l" cx="451.0" cy="264.1" r="6.65"/>
<circle class="l" cx="451.0" cy="278.1" r="6.65"/>
<circle class="l" cx="457.6" cy="257.1" r="6.65"/>
<circle class="l" cx="457.6" cy="264.1" r="6.65"/>
<circle class="l" cx="464.1" cy="232.6" r="6.65"/>
<circle class="l" cx="464.1" cy="250.1" r="6.65"/>
<circle class="l" cx="464.1" cy="262.3" r="6.65"/>
<circle class="l" cx="464.1" cy="278.1" r="6.65"/>
<circle class="l" cx="470.6" cy="262.3" r="6.65"/>
<circle class="l" cx="470.6" cy="272.9" r="6.65"/>
<circle class="l" cx="470.6" cy="281.6" r="6.65"/>
<circle class="l" cx="477.2" cy="245.7" r="6.65"/>
<circle class="b" cx="477.2" cy="253.6" r="6.65"/>
<circle class="b" cx="477.2" cy="274.6" r="6.65"/>
<circle class="b" cx="477.2" cy="283.4" r="6.65"/>
<circle class="b" cx="483.8" cy="267.6" r="6.65"/>
<circle class="b" cx="483.8" cy="278.1" r="6.65"/>
<circle class="b" cx="490.3" cy="267.6" r="6.65"/>
<circle class="b" cx="496.8" cy="258.8" r="6.65"/>
<circle class="l" cx="496.8" cy="271.1" r="6.65"/>
<circle class="l" cx="503.4" cy="243.1" r="6.65"/>
<circle class="b" cx="503.4" cy="264.1" r="6.65"/>
<circle class="b" cx="503.4" cy="285.1" r="6.65"/>
<circle class="b" cx="509.9" cy="258.8" r="6.65"/>
<circle class="b" cx="509.9" cy="274.6" r="6.65"/>
<circle class="b" cx="516.5" cy="274.6" r="6.65"/>
<circle class="b" cx="523.0" cy="267.6" r="6.65"/>
<circle class="b" cx="529.6" cy="271.1" r="6.65"/>
<circle class="b" cx="536.1" cy="262.3" r="6.65"/>
<circle class="l" cx="536.1" cy="242.2" r="6.65"/>
<circle class="b" cx="542.7" cy="251.8" r="6.65"/>
<circle class="b" cx="542.7" cy="267.6" r="6.65"/>
<circle class="b" cx="542.7" cy="285.1" r="6.65"/>
<circle class="l" cx="555.8" cy="273.7" r="6.65"/>
<circle class="b" cx="575.5" cy="271.1" r="6.65"/>
<circle class="b" cx="595.1" cy="254.8" r="6.65"/>
<circle class="b" cx="562.4" cy="276.0" r="6.65"/>
<circle class="w" cx="418.2" cy="259.7" r="6.65"/>
<circle class="w" cx="411.7" cy="240.4" r="6.65"/>
<circle class="w" cx="411.7" cy="227.3" r="6.65"/>
<circle class="w" cx="411.7" cy="249.2" r="6.65"/>
<circle class="w" cx="411.7" cy="267.6" r="6.65"/>
<circle class="w" cx="424.8" cy="278.1" r="6.65"/>
<circle class="l" cx="431.3" cy="262.3" r="6.65"/>
<circle class="l" cx="431.3" cy="279.9" r="6.65"/>
<circle class="l" cx="444.4" cy="281.6" r="6.65"/>
<circle class="l" cx="444.4" cy="272.0" r="6.65"/>
<circle class="l" cx="451.0" cy="256.2" r="6.65"/>
<circle class="l" cx="444.4" cy="255.3" r="6.65"/>
<circle class="l" cx="457.6" cy="282.5" r="6.65"/>
<circle class="l" cx="457.6" cy="271.1" r="6.65"/>
<circle class="l" cx="464.1" cy="239.6" r="6.65"/>
<circle class="l" cx="477.2" cy="265.8" r="6.65"/>
<circle class="l" cx="490.3" cy="259.7" r="6.65"/>
<circle class="b" cx="490.3" cy="275.5" r="6.65"/>
<circle class="l" cx="496.8" cy="231.7" r="6.65"/>
<circle class="b" cx="496.8" cy="280.7" r="6.65"/>
<circle class="b" cx="503.4" cy="255.3" r="6.65"/>
<circle class="l" cx="503.4" cy="272.0" r="6.65"/>
<circle class="l" cx="509.9" cy="243.9" r="6.65"/>
<circle class="l" cx="509.9" cy="286.0" r="6.65"/>
<circle class="b" cx="516.5" cy="264.1" r="6.65"/>
<circle class="b" cx="516.5" cy="188.4" r="6.65"/>
<circle class="l" cx="523.0" cy="254.5" r="6.65"/>
<circle class="b" cx="523.0" cy="276.4" r="6.65"/>
<circle class="b" cx="529.6" cy="260.2" r="6.65"/>
<circle class="b" cx="536.1" cy="272.0" r="6.65"/>
<circle class="b" cx="542.7" cy="257.1" r="6.65"/>
<circle class="b" cx="542.7" cy="240.4" r="6.65"/>
<circle class="b" cx="542.7" cy="282.5" r="6.65"/>
<circle class="b" cx="555.8" cy="264.1" r="6.65"/>
<circle class="b" cx="568.9" cy="274.3" r="6.65"/>
<circle class="b" cx="588.5" cy="272.3" r="6.65"/>
<circle class="b" cx="588.5" cy="257.1" r="6.65"/>
<circle class="b" cx="601.6" cy="262.0" r="6.65"/>
<circle class="b" cx="614.8" cy="228.2" r="6.65"/>
<circle class="b" cx="621.3" cy="265.0" r="6.65"/>
<circle class="l" cx="634.4" cy="277.2" r="6.65"/>
<circle class="b" cx="660.6" cy="271.1" r="6.65"/>
<circle class="b" cx="660.6" cy="282.5" r="6.65"/>
<circle class="l" cx="431.3" cy="202.1" r="6.65"/>
<circle class="w" cx="411.6" cy="32.0" r="6.65"/>
<path d="M420.9 32.5L455.2 25.5Q447.5 30.3 444.5 35.5L450.3 49.3Z" fill="#000" stroke="#000" stroke-width="0.8" stroke-linejoin="round"/>
<line x1="442.5" y1="35.2" x2="447.1" y2="35.8" stroke="#000" stroke-width="2.8"/>
<circle class="l" cx="444.4" cy="635.5" r="6.65"/>
<circle class="w" cx="411.7" cy="606.7" r="6.65"/>
<circle class="w" cx="411.7" cy="600.3" r="6.65"/>
<circle class="w" cx="411.7" cy="629.8" r="6.65"/>
<circle class="w" cx="411.7" cy="601.2" r="6.65"/>
<circle class="w" cx="418.2" cy="629.6" r="6.65"/>
<circle class="w" cx="418.2" cy="634.5" r="6.65"/>
<circle class="l" cx="509.9" cy="619.2" r="6.65"/>
<circle class="w" cx="424.8" cy="622.0" r="6.65"/>
<circle class="w" cx="411.7" cy="619.4" r="6.65"/>
<circle class="l" cx="464.1" cy="627.3" r="6.65"/>
<circle class="l" cx="464.1" cy="624.5" r="6.65"/>
<circle class="w" cx="418.2" cy="601.1" r="6.65"/>
<circle class="w" cx="411.7" cy="626.1" r="6.65"/>
<circle class="l" cx="451.0" cy="620.5" r="6.65"/>
<circle class="w" cx="418.2" cy="601.3" r="6.65"/>
<circle class="b" cx="503.4" cy="633.1" r="6.65"/>
<circle class="l" cx="483.8" cy="601.6" r="6.65"/>
<circle class="w" cx="411.7" cy="621.4" r="6.65"/>
<circle class="w" cx="411.7" cy="607.7" r="6.65"/>
<circle class="l" cx="444.4" cy="618.9" r="6.65"/>
<circle class="w" cx="411.7" cy="626.4" r="6.65"/>
<circle class="l" cx="503.4" cy="607.3" r="6.65"/>
<circle class="l" cx="496.8" cy="613.4" r="6.65"/>
<circle class="w" cx="418.2" cy="599.2" r="6.65"/>
<circle class="b" cx="503.4" cy="638.2" r="6.65"/>
<circle class="l" cx="451.0" cy="630.9" r="6.65"/>
<circle class="b" cx="509.9" cy="634.8" r="6.65"/>
<circle class="w" cx="418.2" cy="634.5" r="6.65"/>
<circle class="b" cx="516.5" cy="626.8" r="6.65"/>
<circle class="l" cx="437.9" cy="625.2" r="6.65"/>
<circle class="b" cx="496.8" cy="612.6" r="6.65"/>
<circle class="w" cx="424.8" cy="608.1" r="6.65"/>
<circle class="l" cx="477.2" cy="623.8" r="6.65"/>
<circle class="l" cx="437.9" cy="637.8" r="6.65"/>
<circle class="w" cx="411.7" cy="616.1" r="6.65"/>
<circle class="l" cx="490.3" cy="604.9" r="6.65"/>
<circle class="l" cx="470.6" cy="600.9" r="6.65"/>
<circle class="w" cx="424.8" cy="596.2" r="6.65"/>
<circle class="w" cx="411.7" cy="606.8" r="6.65"/>
<circle class="l" cx="477.2" cy="610.5" r="6.65"/>
<circle class="l" cx="451.0" cy="631.4" r="6.65"/>
<circle class="l" cx="431.3" cy="601.7" r="6.65"/>
<circle class="l" cx="470.6" cy="636.9" r="6.65"/>
<circle class="w" cx="411.7" cy="616.8" r="6.65"/>
<circle class="l" cx="464.1" cy="626.2" r="6.65"/>
<circle class="w" cx="418.2" cy="609.1" r="6.65"/>
<circle class="w" cx="411.7" cy="638.9" r="6.65"/>
<circle class="b" cx="477.2" cy="615.2" r="6.65"/>
<circle class="w" cx="424.8" cy="611.2" r="6.65"/>
<circle class="l" cx="470.6" cy="622.8" r="6.65"/>
<circle class="w" cx="418.2" cy="618.0" r="6.65"/>
<circle class="l" cx="470.6" cy="624.1" r="6.65"/>
<circle class="l" cx="503.4" cy="621.9" r="6.65"/>
<circle class="w" cx="411.7" cy="612.9" r="6.65"/>
<circle class="w" cx="411.7" cy="602.7" r="6.65"/>
<circle class="w" cx="411.7" cy="604.6" r="6.65"/>
<circle class="l" cx="464.1" cy="604.5" r="6.65"/>
<circle class="l" cx="470.6" cy="634.1" r="6.65"/>
<circle class="l" cx="451.0" cy="627.0" r="6.65"/>
<circle class="w" cx="418.2" cy="625.2" r="6.65"/>
<circle class="b" cx="483.8" cy="636.0" r="6.65"/>
<circle class="b" cx="509.9" cy="619.1" r="6.65"/>
<circle class="l" cx="437.9" cy="627.3" r="6.65"/>
<circle class="w" cx="411.7" cy="613.6" r="6.65"/>
<circle class="w" cx="411.7" cy="626.6" r="6.65"/>
<circle class="w" cx="418.2" cy="623.1" r="6.65"/>
<circle class="w" cx="411.7" cy="603.2" r="6.65"/>
<circle class="b" cx="516.5" cy="630.3" r="6.65"/>
<circle class="w" cx="411.7" cy="601.6" r="6.65"/>
<circle class="w" cx="424.8" cy="595.1" r="6.65"/>
<circle class="b" cx="490.3" cy="613.8" r="6.65"/>
<circle class="b" cx="477.2" cy="623.1" r="6.65"/>
<circle class="l" cx="444.4" cy="605.4" r="6.65"/>
<circle class="l" cx="431.3" cy="614.4" r="6.65"/>
<circle class="b" cx="490.3" cy="630.0" r="6.65"/>
<circle class="b" cx="483.8" cy="625.2" r="6.65"/>
<circle class="w" cx="411.7" cy="601.1" r="6.65"/>
<circle class="l" cx="437.9" cy="616.0" r="6.65"/>
<circle class="l" cx="431.3" cy="612.3" r="6.65"/>
<circle class="l" cx="457.6" cy="606.0" r="6.65"/>
<circle class="l" cx="496.8" cy="605.1" r="6.65"/>
<circle class="l" cx="431.3" cy="619.3" r="6.65"/>
<circle class="l" cx="457.6" cy="638.3" r="6.65"/>
<circle class="l" cx="437.9" cy="616.5" r="6.65"/>
<circle class="w" cx="411.7" cy="601.1" r="6.65"/>
<circle class="b" cx="496.8" cy="622.5" r="6.65"/>
<circle class="l" cx="457.6" cy="638.4" r="6.65"/>
<circle class="l" cx="509.9" cy="608.6" r="6.65"/>
<circle class="l" cx="457.6" cy="612.3" r="6.65"/>
<circle class="l" cx="483.8" cy="629.6" r="6.65"/>
<circle class="w" cx="424.8" cy="629.5" r="6.65"/>
<circle class="l" cx="457.6" cy="609.3" r="6.65"/>
<circle class="l" cx="490.3" cy="601.6" r="6.65"/>
<circle class="l" cx="444.4" cy="613.7" r="6.65"/>
<circle class="l" cx="444.4" cy="634.5" r="6.65"/>
<circle class="w" cx="424.8" cy="594.2" r="6.65"/>
<circle class="l" cx="464.1" cy="615.3" r="6.65"/>
<circle class="l" cx="431.3" cy="608.3" r="6.65"/>
<circle class="l" cx="451.0" cy="633.6" r="6.65"/>
<circle class="l" cx="477.2" cy="624.2" r="6.65"/>
<circle class="l" cx="483.8" cy="611.0" r="6.65"/>
<circle class="l" cx="490.3" cy="628.3" r="6.65"/>
<circle class="l" cx="496.8" cy="612.7" r="6.65"/>
<circle class="l" cx="503.4" cy="624.3" r="6.65"/>
<circle class="w" cx="411.7" cy="637.1" r="6.65"/>
<circle class="w" cx="411.7" cy="630.1" r="6.65"/>
<circle class="w" cx="411.7" cy="612.6" r="6.65"/>
<circle class="w" cx="411.7" cy="605.6" r="6.65"/>
<circle class="w" cx="411.7" cy="595.0" r="6.65"/>
<circle class="w" cx="418.2" cy="640.6" r="6.65"/>
<circle class="w" cx="418.2" cy="628.3" r="6.65"/>
<circle class="w" cx="418.2" cy="617.8" r="6.65"/>
<circle class="w" cx="418.2" cy="610.8" r="6.65"/>
<circle class="w" cx="418.2" cy="596.8" r="6.65"/>
<circle class="w" cx="424.8" cy="635.3" r="6.65"/>
<circle class="w" cx="424.8" cy="621.3" r="6.65"/>
<circle class="w" cx="424.8" cy="609.1" r="6.65"/>
<circle class="w" cx="424.8" cy="600.3" r="6.65"/>
<circle class="l" cx="431.3" cy="612.6" r="6.65"/>
<circle class="l" cx="431.3" cy="631.8" r="6.65"/>
<circle class="l" cx="437.9" cy="600.3" r="6.65"/>
<circle class="l" cx="437.9" cy="612.6" r="6.65"/>
<circle class="l" cx="437.9" cy="626.6" r="6.65"/>
<circle class="l" cx="437.9" cy="638.8" r="6.65"/>
<circle class="l" cx="444.4" cy="601.2" r="6.65"/>
<circle class="l" cx="444.4" cy="608.2" r="6.65"/>
<circle class="l" cx="444.4" cy="624.8" r="6.65"/>
<circle class="l" cx="444.4" cy="640.6" r="6.65"/>
<circle class="l" cx="451.0" cy="593.3" r="6.65"/>
<circle class="l" cx="451.0" cy="605.6" r="6.65"/>
<circle class="l" cx="451.0" cy="617.8" r="6.65"/>
<circle class="l" cx="451.0" cy="630.1" r="6.65"/>
<circle class="l" cx="451.0" cy="640.6" r="6.65"/>
<circle class="l" cx="457.6" cy="595.0" r="6.65"/>
<circle class="l" cx="457.6" cy="617.8" r="6.65"/>
<circle class="l" cx="464.1" cy="595.9" r="6.65"/>
<circle class="l" cx="464.1" cy="603.8" r="6.65"/>
<circle class="l" cx="464.1" cy="612.6" r="6.65"/>
<circle class="l" cx="464.1" cy="633.6" r="6.65"/>
<circle class="l" cx="464.1" cy="644.1" r="6.65"/>
<circle class="l" cx="470.6" cy="600.3" r="6.65"/>
<circle class="l" cx="470.6" cy="612.6" r="6.65"/>
<circle class="l" cx="470.6" cy="626.6" r="6.65"/>
<circle class="l" cx="470.6" cy="638.8" r="6.65"/>
<circle class="b" cx="477.2" cy="609.1" r="6.65"/>
<circle class="l" cx="477.2" cy="630.1" r="6.65"/>
<circle class="b" cx="477.2" cy="642.3" r="6.65"/>
<circle class="b" cx="483.8" cy="585.4" r="6.65"/>
<circle class="b" cx="483.8" cy="600.3" r="6.65"/>
<circle class="b" cx="483.8" cy="612.6" r="6.65"/>
<circle class="b" cx="483.8" cy="626.6" r="6.65"/>
<circle class="b" cx="483.8" cy="637.1" r="6.65"/>
<circle class="b" cx="490.3" cy="612.6" r="6.65"/>
<circle class="b" cx="490.3" cy="630.1" r="6.65"/>
<circle class="b" cx="490.3" cy="638.8" r="6.65"/>
<circle class="b" cx="496.8" cy="576.6" r="6.65"/>
<circle class="l" cx="496.8" cy="603.8" r="6.65"/>
<circle class="l" cx="496.8" cy="612.6" r="6.65"/>
<circle class="b" cx="496.8" cy="633.6" r="6.65"/>
<circle class="l" cx="503.4" cy="563.5" r="6.65"/>
<circle class="l" cx="503.4" cy="603.8" r="6.65"/>
<circle class="l" cx="503.4" cy="617.8" r="6.65"/>
<circle class="b" cx="503.4" cy="637.1" r="6.65"/>
<circle class="b" cx="503.4" cy="630.1" r="6.65"/>
<circle class="b" cx="509.9" cy="604.7" r="6.65"/>
<circle class="b" cx="509.9" cy="616.1" r="6.65"/>
<circle class="b" cx="509.9" cy="637.1" r="6.65"/>
<circle class="b" cx="509.9" cy="644.1" r="6.65"/>
<circle class="b" cx="516.5" cy="573.1" r="6.65"/>
<circle class="b" cx="516.5" cy="609.9" r="6.65"/>
<circle class="b" cx="516.5" cy="621.3" r="6.65"/>
<circle class="b" cx="516.5" cy="633.6" r="6.65"/>
<circle class="l" cx="523.0" cy="615.2" r="6.65"/>
<circle class="b" cx="523.0" cy="621.3" r="6.65"/>
<circle class="b" cx="529.6" cy="617.8" r="6.65"/>
<circle class="l" cx="529.6" cy="637.1" r="6.65"/>
<circle class="b" cx="529.6" cy="626.6" r="6.65"/>
<circle class="l" cx="536.1" cy="584.9" r="6.65"/>
<circle class="b" cx="536.1" cy="614.7" r="6.65"/>
<circle class="b" cx="536.1" cy="624.8" r="6.65"/>
<circle class="b" cx="542.7" cy="595.0" r="6.65"/>
<circle class="b" cx="542.7" cy="616.9" r="6.65"/>
<circle class="b" cx="542.7" cy="620.4" r="6.65"/>
<circle class="l" cx="542.7" cy="630.1" r="6.65"/>
<circle class="b" cx="555.8" cy="639.7" r="6.65"/>
<circle class="l" cx="562.4" cy="639.7" r="6.65"/>
<circle class="b" cx="562.4" cy="634.5" r="6.65"/>
<circle class="b" cx="588.5" cy="618.7" r="6.65"/>
<circle class="b" cx="621.3" cy="628.7" r="6.65"/>
<circle class="b" cx="660.6" cy="646.2" r="6.65"/>
<circle class="l" cx="496.8" cy="601.0" r="6.65"/>
<circle class="l" cx="483.8" cy="608.0" r="6.65"/>
<circle class="l" cx="503.4" cy="617.8" r="6.65"/>
<circle class="l" cx="470.6" cy="607.0" r="6.65"/>
<circle class="l" cx="470.6" cy="621.5" r="6.65"/>
<circle class="l" cx="470.6" cy="633.1" r="6.65"/>
<circle class="w" cx="411.7" cy="571.4" r="6.65"/>
<circle class="w" cx="411.7" cy="581.9" r="6.65"/>
<circle class="w" cx="418.2" cy="588.9" r="6.65"/>
<circle class="w" cx="418.2" cy="602.9" r="6.65"/>
<circle class="w" cx="411.7" cy="623.1" r="6.65"/>
<circle class="l" cx="411.7" cy="649.3" r="6.65"/>
<circle class="l" cx="431.3" cy="583.3" r="6.65"/>
<circle class="l" cx="444.4" cy="592.4" r="6.65"/>
<circle class="l" cx="444.4" cy="616.9" r="6.65"/>
<circle class="l" cx="457.6" cy="606.4" r="6.65"/>
<circle class="l" cx="477.2" cy="596.8" r="6.65"/>
<circle class="l" cx="477.2" cy="579.3" r="6.65"/>
<circle class="l" cx="464.1" cy="621.3" r="6.65"/>
<circle class="l" cx="477.2" cy="620.4" r="6.65"/>
<circle class="l" cx="457.6" cy="629.2" r="6.65"/>
<circle class="l" cx="431.3" cy="623.9" r="6.65"/>
<circle class="l" cx="444.4" cy="632.7" r="6.65"/>
<circle class="l" cx="431.3" cy="638.0" r="6.65"/>
<circle class="l" cx="457.6" cy="641.5" r="6.65"/>
<circle class="l" cx="477.2" cy="636.2" r="6.65"/>
<circle class="b" cx="483.8" cy="648.5" r="6.65"/>
<circle class="b" cx="483.8" cy="566.7" r="6.65"/>
<circle class="b" cx="496.8" cy="562.6" r="6.65"/>
<circle class="b" cx="490.3" cy="581.4" r="6.65"/>
<circle class="b" cx="490.3" cy="596.8" r="6.65"/>
<circle class="l" cx="490.3" cy="604.7" r="6.65"/>
<circle class="b" cx="496.8" cy="621.3" r="6.65"/>
<circle class="l" cx="496.8" cy="641.5" r="6.65"/>
<circle class="b" cx="509.9" cy="589.8" r="6.65"/>
<circle class="l" cx="509.9" cy="628.3" r="6.65"/>
<circle class="b" cx="516.5" cy="577.2" r="6.65"/>
<circle class="b" cx="523.0" cy="629.2" r="6.65"/>
<circle class="b" cx="529.6" cy="607.7" r="6.65"/>
<circle class="b" cx="536.1" cy="635.7" r="6.65"/>
<circle class="b" cx="542.7" cy="586.6" r="6.65"/>
<circle class="l" cx="555.8" cy="605.0" r="6.65"/>
<circle class="b" cx="568.9" cy="635.0" r="6.65"/>
<circle class="b" cx="575.5" cy="611.2" r="6.65"/>
<circle class="b" cx="588.5" cy="617.5" r="6.65"/>
<circle class="b" cx="595.1" cy="633.9" r="6.65"/>
<circle class="b" cx="601.6" cy="609.1" r="6.65"/>
<circle class="b" cx="614.8" cy="621.3" r="6.65"/>
<circle class="l" cx="634.4" cy="611.2" r="6.65"/>
<circle class="b" cx="660.6" cy="634.8" r="6.65"/>
<circle class="b" cx="502.9" cy="537.5" r="6.65"/>
<circle class="w" cx="411.6" cy="424.7" r="6.65"/>
<path d="M420.9 423.2L444.7 398.0Q441.3 405.4 441.9 410.9L455.2 419.4Z" fill="#000" stroke="#000" stroke-width="0.8" stroke-linejoin="round"/>
<line x1="440.2" y1="411.9" x2="444.1" y2="409.6" stroke="#000" stroke-width="2.8"/>
<text transform="translate(0 62.60) scale(1 0.95)" class="ann" font-size="15.4"><tspan x="138.55" letter-spacing="-0.024">Mus: n = 74</tspan></text>
<text transform="translate(0 79.60) scale(1 0.95)" class="ann" font-size="15.4"><tspan x="138.55" letter-spacing="-0.076">NMus: n = 88</tspan></text>
<text transform="translate(0 97.20) scale(1 0.95)" class="ann" font-size="15.4"><tspan x="139.16" font-style="italic">t</tspan><tspan x="145.28" letter-spacing="0.090">(160) = -0.407,  </tspan><tspan x="259.89" font-style="italic">p </tspan><tspan x="275.43" letter-spacing="0.009">= 0.658</tspan></text>
<text transform="translate(0 449.90) scale(1 0.95)" class="ann" font-size="15.4"><tspan x="138.55" letter-spacing="-0.024">Mus: n = 74</tspan></text>
<text transform="translate(0 467.90) scale(1 0.95)" class="ann" font-size="15.4"><tspan x="138.55" letter-spacing="-0.076">NMus: n = 88</tspan></text>
<text transform="translate(0 487.20) scale(1 0.95)" class="ann" font-size="15.4"><tspan x="139.16" font-style="italic">t</tspan><tspan x="145.28" letter-spacing="0.079">(160) = 0.148,  </tspan><tspan x="253.29" font-style="italic">p </tspan><tspan x="268.73" letter-spacing="-0.049">= 0.441</tspan></text>
<text transform="translate(0 62.90) scale(1 0.95)" class="ann" font-size="15.4"><tspan x="432.25" letter-spacing="0.079">n = 296</tspan></text>
<text transform="translate(0 81.70) scale(1 0.95)" class="ann" font-size="15.4"><tspan x="432.42" font-style="italic">r </tspan><tspan x="443.43" letter-spacing="-0.048">= 0.018,  </tspan><tspan x="508.39" font-style="italic">p </tspan><tspan x="523.93" letter-spacing="-0.066">= 0.381</tspan></text>
<text transform="translate(0 449.70) scale(1 0.95)" class="ann" font-size="15.4"><tspan x="432.25" letter-spacing="0.079">n = 296</tspan></text>
<text transform="translate(0 468.20) scale(1 0.95)" class="ann" font-size="15.4"><tspan x="432.42" font-style="italic">r </tspan><tspan x="443.43" letter-spacing="-0.048">= 0.008,  </tspan><tspan x="508.39" font-style="italic">p </tspan><tspan x="523.93" letter-spacing="0.013">= 0.445</tspan></text>
</svg>
</body></html>
